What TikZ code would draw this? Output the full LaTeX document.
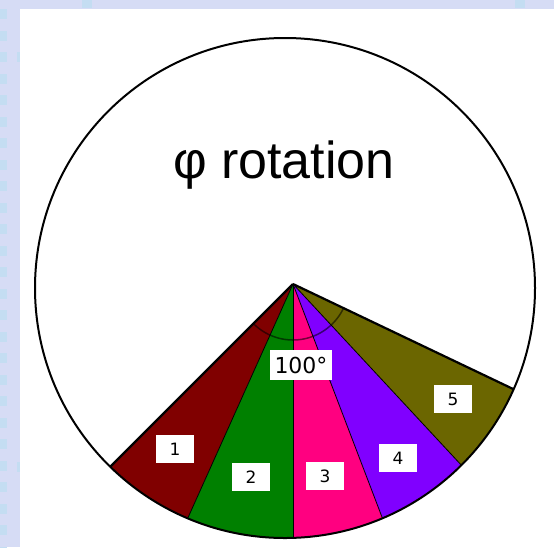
\documentclass[tikz,border=0pt]{standalone}
\usepackage{fontspec}
\setmainfont{DejaVu Sans}
\newfontfamily\labfont{Liberation Sans}
\definecolor{bgblue}{RGB}{214,220,245}
\definecolor{sqblue}{RGB}{196,221,242}
\definecolor{cred}{RGB}{128,0,0}
\definecolor{cgreen}{RGB}{0,128,0}
\definecolor{cpink}{RGB}{255,0,128}
\definecolor{cpurple}{RGB}{128,0,255}
\definecolor{colive}{RGB}{107,102,0}
\tikzset{
  numlab/.style={fill=white, minimum width=38pt, minimum height=28pt, inner sep=0pt, font=\fontsize{17}{17}\selectfont},
  anglab/.style={fill=white, minimum width=62pt, minimum height=30pt, inner sep=0pt, font=\fontsize{22}{22}\selectfont},
  divider/.style={line width=0.8pt},
  outeredge/.style={line width=2.2pt},
}
\begin{document}
\begin{tikzpicture}[x=1pt,y=-1pt]
\useasboundingbox (0,0) rectangle (554,547);
\fill[bgblue] (0,0) rectangle (554,547);
\foreach \k in {0,...,25} { \fill[sqblue] (0,{9+21.5*\k}) rectangle (7,{19+21.5*\k}); }
\fill[sqblue] (17,52) rectangle (20,62);
\fill[sqblue] (17,462) rectangle (20,472);
\fill[sqblue] (82,0) rectangle (92,8);
\fill[sqblue] (515,0) rectangle (525,8);
\fill[white] (20,9) rectangle (554,547);
\coordinate (A) at (293,284);
\coordinate (C) at (285,288);
\begin{scope}
  \clip (C) circle[radius=250pt];
  \fill[cred]    (A) -- +(135:400)  -- +(114.2:400) -- cycle;
  \fill[cgreen]  (A) -- +(114.2:400) -- +(90:400) -- cycle;
  \fill[cpink]   (A) -- +(90:400)   -- +(69.1:400) -- cycle;
  \fill[cpurple] (A) -- +(69.1:400) -- +(47.1:400) -- cycle;
  \fill[colive]  (A) -- +(47.1:400) -- +(25.5:400) -- cycle;
  \draw[divider] (A) -- +(114.2:400);
  \draw[divider] (A) -- +(90:400);
  \draw[divider] (A) -- +(69.1:400);
  \draw[divider] (A) -- +(47.1:400);
  \draw[outeredge, line join=round] (A) -- +(135:400);
  \draw[outeredge, line join=round] (A) -- +(25.5:400);
\end{scope}
\draw[line width=2pt] (C) circle[radius=250pt];
\draw[line width=1.5pt, black, opacity=0.55] plot[domain=25.5:135, samples=50] ({293+56*cos(\x)},{284+56*sin(\x)});
\node[anglab] (ang) at (301,365) {100°};
\node[numlab] (n1) at (175,449) {1};
\node[numlab] (n2) at (251,477) {2};
\node[numlab] (n3) at (325,476) {3};
\node[numlab] (n4) at (398,458) {4};
\node[numlab] (n5) at (453,399) {5};
\node[font=\labfont\fontsize{52}{52}\selectfont, anchor=base, inner sep=0pt] (title) at (284,178) {φ rotation};
\end{tikzpicture}
\end{document}
